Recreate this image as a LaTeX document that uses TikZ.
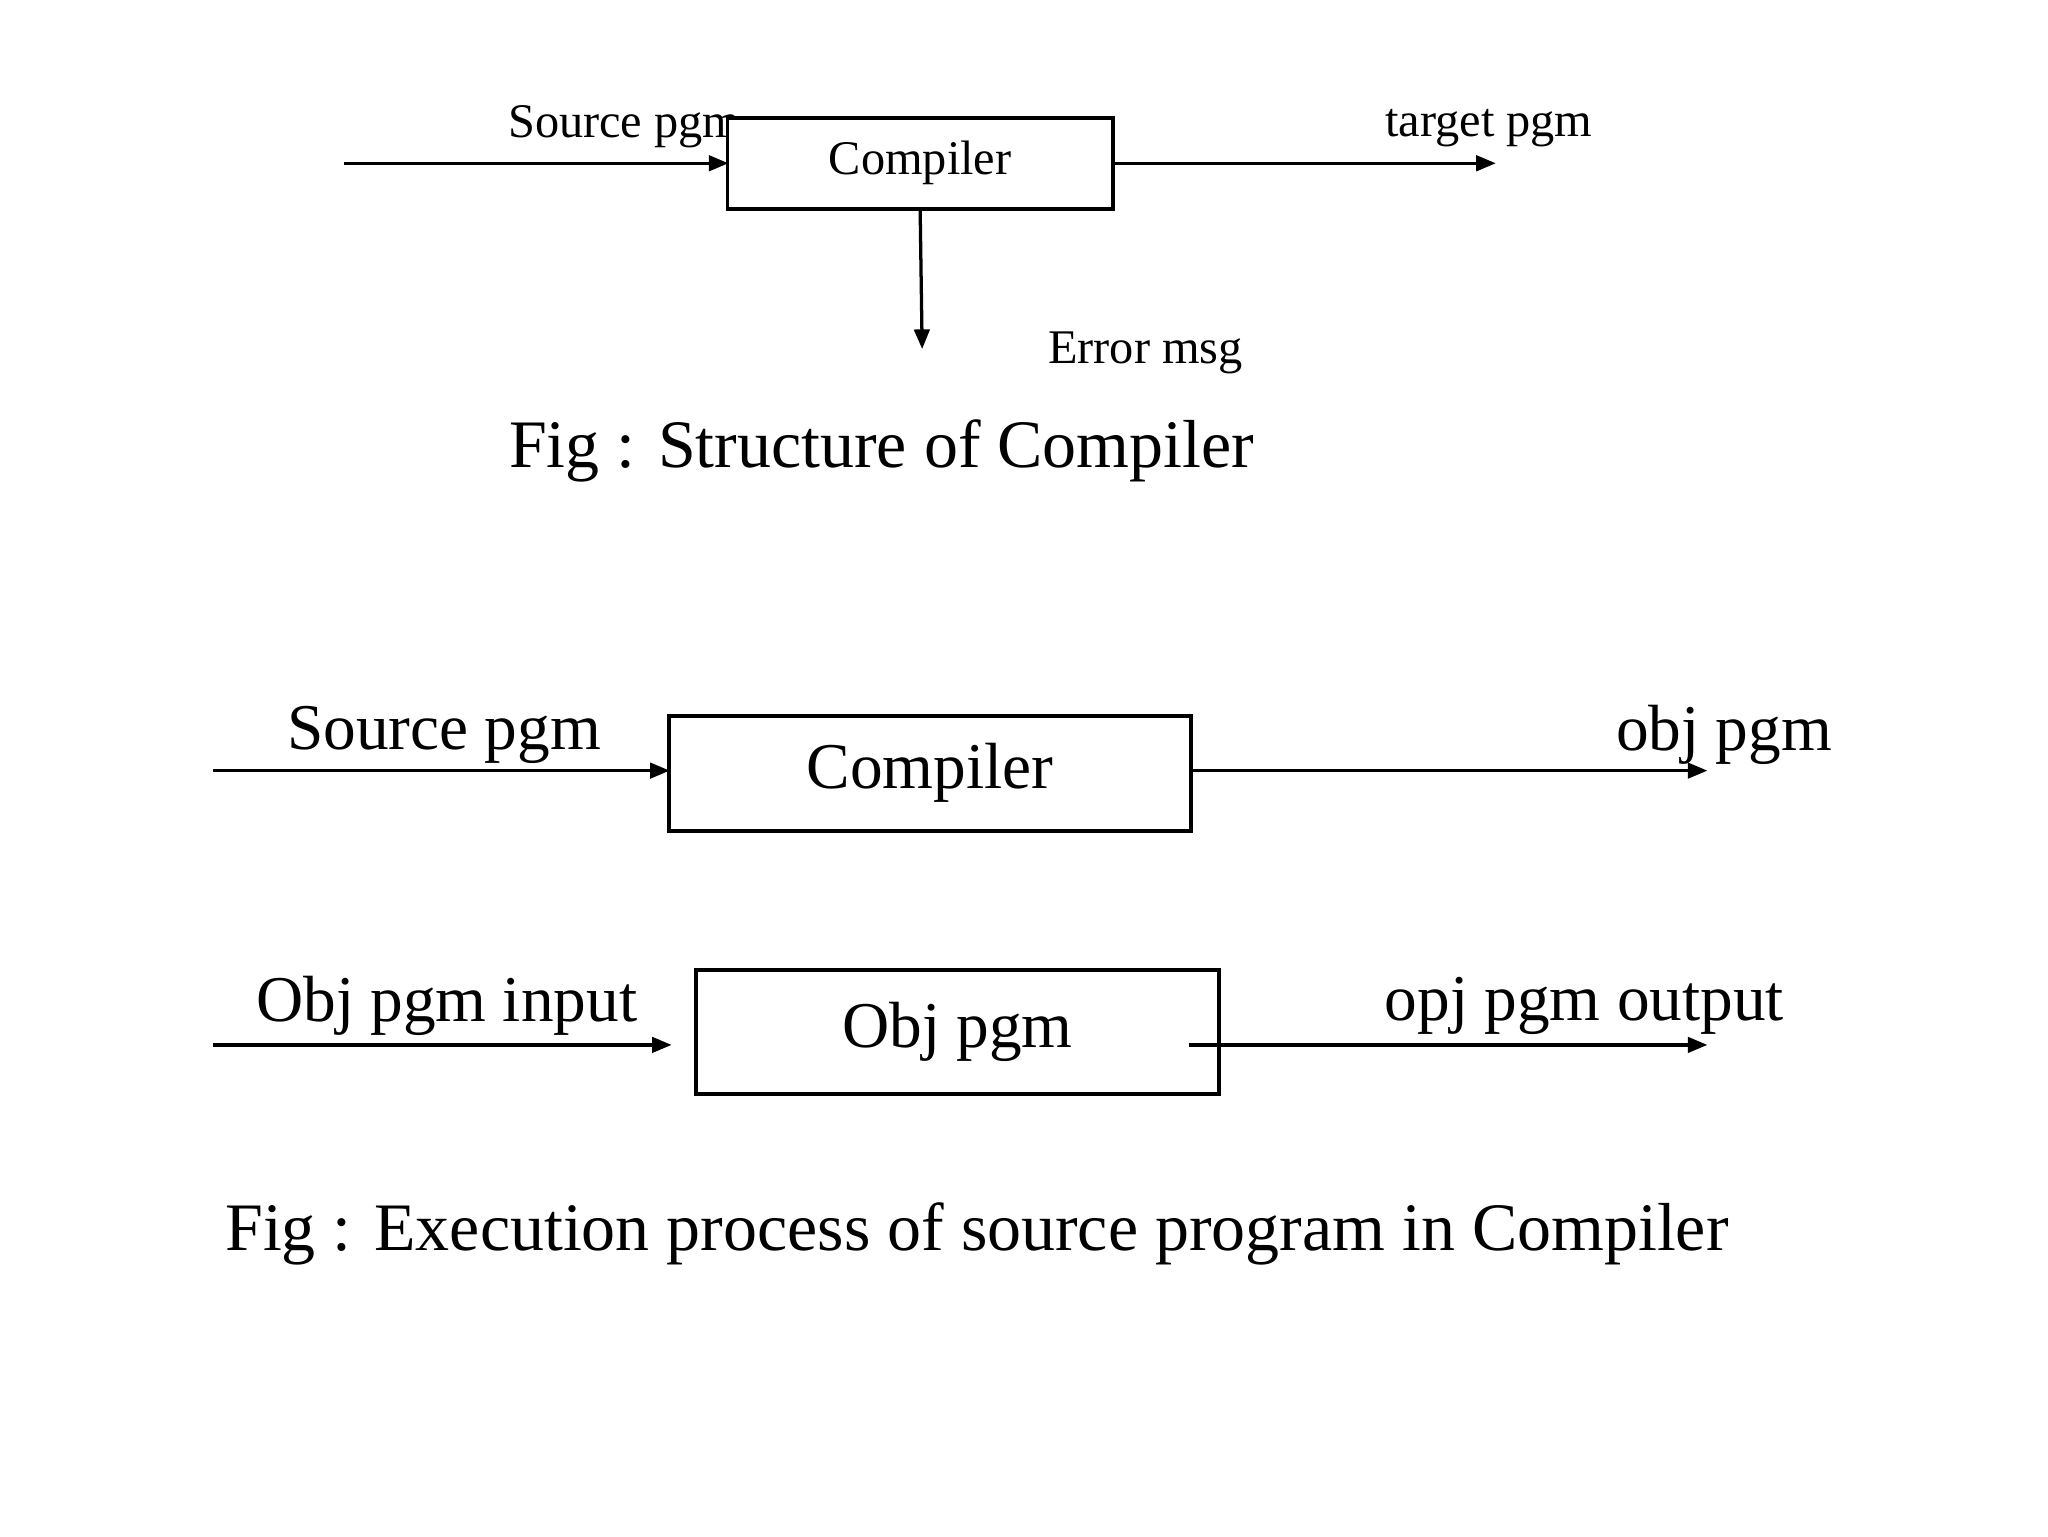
\documentclass[tikz,border=0pt]{standalone}
\usepackage{fontspec}
\setmainfont{Liberation Serif}
\usetikzlibrary{arrows, positioning}
\begin{document}
\begin{tikzpicture}[
		x=1pt, y=-1pt,
		box/.style = {draw, line width=3pt, rectangle, fill=white, inner sep=0pt},
		flow/.style = {->, >=triangle 45, line width=2.5pt, shorten >=-2pt},
		lbl/.style = {font=\fontsize{37}{42}\selectfont},
		big/.style = {font=\fontsize{50}{56}\selectfont},
		figcap/.style = {font=\fontsize{52}{58}\selectfont}
	]
	\useasboundingbox (0,0) rectangle (1568,1176);

	% structure of compiler
	\node[lbl] (srclbl) at (478,97) {Source pgm};
	\node[box, minimum width=295pt, minimum height=70pt, lbl] (comp) at (704.5,125) {Compiler};
	\coordinate (srcin) at (263,125);
	\coordinate (tgtout) at (1143,125);
	\coordinate (errout) at (706,265);
	\node[lbl] (tgtlbl) at (1140,98) {target pgm};
	\node[lbl] (errlbl) at (877,270) {Error msg};
	\draw[flow] (srcin) -- (comp.west);
	\draw[flow] (comp.east) -- (tgtout);
	\draw[flow] (comp.south) -- (errout);
	\node[figcap] (cap1) at (675,345) {Fig : Structure of Compiler};

	% execution process
	\node[box, minimum width=400pt, minimum height=88pt, big] (comp2) at (712,592) {Compiler};
	\node[box, minimum width=400pt, minimum height=95pt, big] (obj) at (733,790) {Obj pgm};
	\coordinate (in1) at (163,590);
	\coordinate (out1) at (1305,590);
	\coordinate (in2a) at (163,800);
	\coordinate (in2b) at (512,800);
	\coordinate (out2a) at (910,800);
	\coordinate (out2b) at (1305,800);
	\node[big] (srclbl2) at (340,563) {Source pgm};
	\node[big] (objlbl) at (1320,563) {obj pgm};
	\node[big] (inlbl) at (342,770) {Obj pgm input};
	\node[big] (outlbl) at (1213,770) {opj pgm output};
	\draw[flow] (in1) -- (comp2.west |- in1);
	\draw[flow] (comp2.east |- out1) -- (out1);
	\draw[flow] (in2a) -- (in2b);
	\draw[flow] (out2a) -- (out2b);
	\node[figcap] (cap2) at (748,945) {Fig : Execution process of source program in Compiler};
\end{tikzpicture}
\end{document}
